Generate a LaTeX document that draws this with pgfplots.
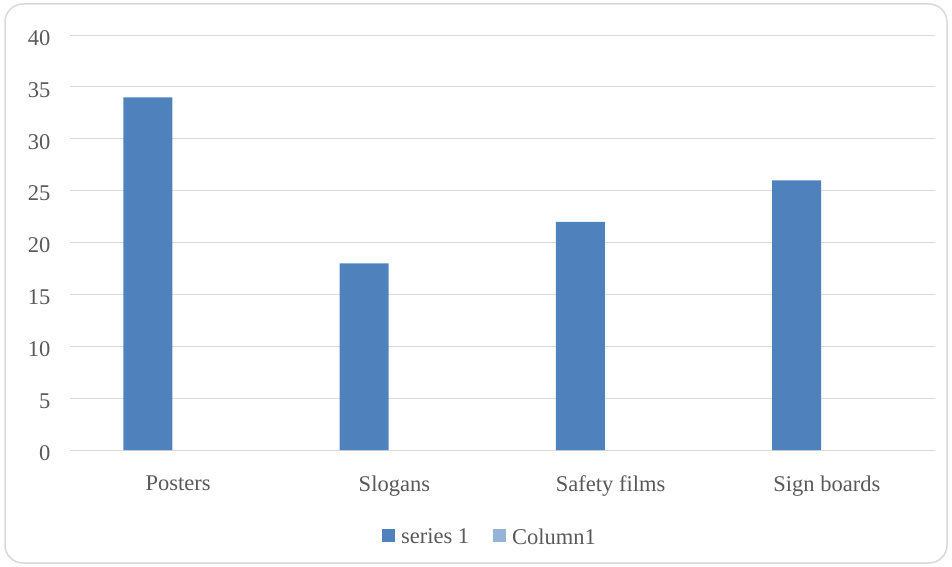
\documentclass[border=0pt]{standalone}
\usepackage{pgfplots}
\pgfplotsset{compat=1.18}
\usepackage{fontspec}
\setmainfont{Liberation Serif}
\definecolor{barblue}{HTML}{4F81BD}
\definecolor{lightblue}{HTML}{95B3D7}
\definecolor{txtgray}{HTML}{595959}
\definecolor{gridgray}{HTML}{D9D9D9}
\begin{document}
\begin{tikzpicture}
\path[use as bounding box] (0,0) rectangle (952pt,566pt);
\draw[gridgray, line width=1.5pt, rounded corners=18pt] (5pt,3pt) rectangle (947pt,562pt);
\begin{axis}[
  at={(70pt,116pt)}, anchor=south west,
  scale only axis, width=865pt, height=415pt,
  xmin=-0.5, xmax=3.5, ymin=0, ymax=40,
  ytick={0,5,...,40},
  xtick={0,1,2,3},
  xticklabels={Posters, Slogans, Safety films, Sign boards},
  axis line style={draw=none},
  major tick length=0pt,
  ymajorgrids, grid style={gridgray, line width=1pt},
  font=\fontsize{22.5}{26}\selectfont,
  tick label style={text=txtgray},
  yticklabel style={xshift=-16pt, yshift=-3pt},
  xticklabel style={yshift=-22pt},
  /pgf/number format/assume math mode=true,
  legend style={at={(0.4855,-0.21)}, anchor=center, draw=none, fill=none,
    legend columns=2, text=txtgray, font=\fontsize{22.5}{26}\selectfont,
    /tikz/every odd column/.append style={column sep=4pt},
    /tikz/every even column/.append style={column sep=22pt}},
  legend image code/.code={\fill[#1] (0pt,-5pt) rectangle (13pt,8pt);},
]
\addplot[ybar, bar width=0.227, bar shift=-0.14, fill=barblue, draw=none]
  coordinates {(0,34) (1,18) (2,22) (3,26)};
\addlegendentry{series 1}
\addlegendimage{fill=lightblue, draw=none}
\addlegendentry{Column1}
\end{axis}
\end{tikzpicture}
\end{document}
